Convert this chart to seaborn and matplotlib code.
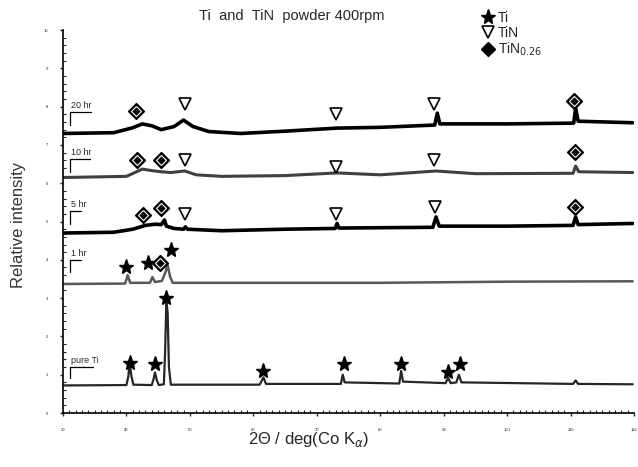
import matplotlib
matplotlib.use('Agg')
import matplotlib.pyplot as plt
import seaborn as sns
import pandas as pd
from matplotlib.lines import Line2D
from matplotlib.ticker import MultipleLocator

# XRD traces (2theta in deg, relative intensity offset per sample)
x_20hr = [30, 38, 41, 42.5, 44, 45.5, 47.5, 49.0, 50.5, 53, 58, 65, 73.2, 80, 88.6, 89.0, 89.4, 100, 110.5, 110.8, 111.2, 119.8]
y_20hr = [7.30, 7.32, 7.45, 7.55, 7.50, 7.40, 7.48, 7.65, 7.48, 7.35, 7.30, 7.36, 7.44, 7.46, 7.52, 7.83, 7.55, 7.55, 7.57, 7.96, 7.62, 7.58]

x_10hr = [30, 40, 41.6, 42.5, 44, 45.5, 47, 49.2, 51, 55, 65, 73.2, 80, 88.8, 95, 110.4, 110.8, 111.3, 119.8]
y_10hr = [6.15, 6.18, 6.30, 6.37, 6.33, 6.30, 6.28, 6.32, 6.22, 6.18, 6.20, 6.27, 6.22, 6.32, 6.25, 6.26, 6.45, 6.30, 6.28]

x_5hr = [30, 38, 41, 43, 44.5, 45.5, 46.0, 46.3, 47.5, 49.0, 49.3, 49.6, 55, 65, 72.9, 73.2, 73.5, 88.3, 88.8, 89.3, 100, 110.4, 110.8, 111.2, 119.8]
y_5hr = [4.70, 4.72, 4.80, 4.90, 4.93, 4.92, 5.04, 4.88, 4.82, 4.80, 4.86, 4.80, 4.76, 4.80, 4.82, 4.95, 4.83, 4.85, 5.12, 4.88, 4.88, 4.90, 5.12, 4.92, 4.95]

x_1hr = [30, 39.8, 40.2, 40.6, 43.7, 44.1, 44.5, 45.6, 46.2, 46.5, 46.9, 47.3, 80, 100, 119.8]
y_1hr = [3.37, 3.38, 3.60, 3.40, 3.40, 3.55, 3.42, 3.45, 3.70, 3.86, 3.55, 3.40, 3.40, 3.43, 3.44]

x_ti = [30, 40.0, 40.3, 40.5, 40.8, 41.1, 44.0, 44.3, 44.5, 44.8, 45.1, 45.9, 46.1, 46.3, 46.5, 46.7, 47.0,
        61.0, 61.6, 62.0, 73.8, 74.1, 74.4, 83.0, 83.3, 83.6, 90.3, 90.7, 91.1, 92.0, 92.4, 92.8,
        110.4, 110.8, 111.2, 119.8]
y_ti = [0.72, 0.73, 0.95, 1.30, 0.95, 0.74, 0.73, 0.90, 1.06, 0.85, 0.73, 0.75, 1.60, 2.95, 2.60, 1.20, 0.74,
        0.74, 0.93, 0.76, 0.76, 1.00, 0.80, 0.77, 1.10, 0.82, 0.78, 0.92, 0.78, 0.80, 1.00, 0.80,
        0.76, 0.85, 0.76, 0.75]

# phase markers
ti_x = [39.9, 43.4, 47.1, 40.5, 44.5, 46.2, 61.6, 74.3, 83.3, 90.7, 92.6]
ti_y = [3.81, 3.92, 4.26, 1.31, 1.28, 3.00, 1.10, 1.28, 1.28, 1.07, 1.28]
tin_x = [49.2, 73.1, 88.5, 49.2, 73.1, 88.5, 49.2, 73.1, 88.6]
tin_y = [8.07, 7.81, 8.07, 6.61, 6.42, 6.61, 5.20, 5.20, 5.38]
tin026_x = [41.5, 110.5, 41.6, 45.4, 110.7, 42.6, 45.4, 110.7, 45.3]
tin026_y = [7.89, 8.15, 6.61, 6.61, 6.81, 5.17, 5.35, 5.38, 3.92]

# sample labels with their bracket levels
sample_labels = ['20 hr', '10 hr', '5 hr', '1 hr', 'pure Ti']
bracket_top = [7.86, 6.63, 5.27, 3.99, 1.20]
bracket_bottom = [7.52, 6.29, 4.93, 3.68, 0.91]
bracket_end = [34.4, 34.3, 32.9, 32.9, 34.7]

sns.set_theme(style='white')
plt.rcParams['font.family'] = ['Liberation Sans', 'DejaVu Sans']

fig = plt.figure(figsize=(6.38, 4.67), dpi=100)
ax = fig.add_axes([0.0987, 0.1156, 0.895, 0.82])

traces = [
    (x_20hr, y_20hr, 'black', 2.6),
    (x_10hr, y_10hr, '0.25', 2.2),
    (x_5hr, y_5hr, 'black', 2.6),
    (x_1hr, y_1hr, '0.35', 1.8),
    (x_ti, y_ti, '0.15', 1.6),
]
for xs, ys, c, lw in traces:
    df = pd.DataFrame({'x': xs, 'y': ys})
    sns.lineplot(data=df, x='x', y='y', ax=ax, color=c, linewidth=lw,
                 sort=False, estimator=None)

ax.plot(ti_x, ti_y, linestyle='none', marker='*', ms=11, color='black')
ax.plot(tin_x, tin_y, linestyle='none', marker='v', ms=8, mfc='white', mec='black', mew=1.2)
ax.plot(tin026_x, tin026_y, linestyle='none', marker='D', ms=8, mfc='black', mec='black')
ax.plot(tin026_x, tin026_y, linestyle='none', marker='D', ms=5.5, mfc='black', mec='white', mew=0.8)

for lab, yt, yb, xe in zip(sample_labels, bracket_top, bracket_bottom, bracket_end):
    ax.plot([xe, 31.1, 31.1], [yt, yt, yb], color='black', lw=0.9)
    ax.text(31.3, yt + 0.05, lab, fontsize=6.5, ha='left', va='bottom')

ax.set_xlim(30, 120)
ax.set_ylim(0, 10)
ax.xaxis.set_major_locator(MultipleLocator(10))
ax.xaxis.set_minor_locator(MultipleLocator(1))
ax.yaxis.set_major_locator(MultipleLocator(1))
ax.yaxis.set_minor_locator(MultipleLocator(0.2))
ax.tick_params(axis='both', which='major', direction='out', length=2.5, width=1,
               labelsize=3, pad=8, left=True, bottom=True)
ax.tick_params(axis='both', which='minor', direction='in', length=2, width=0.8,
               left=True, bottom=True)
for s in ['top', 'right']:
    ax.spines[s].set_visible(False)
for s in ['left', 'bottom']:
    ax.spines[s].set_color('black')
    ax.spines[s].set_linewidth(1.2)

ax.set_xlabel('2Θ / deg(Co K$_\\alpha$)', fontsize=12)
ax.xaxis.set_label_coords(0.43, -0.045)
ax.set_ylabel('Relative intensity', fontsize=12, color='0.2')
ax.yaxis.set_label_coords(-0.065, 0.49)
ax.set_title('Ti  and  TiN  powder 400rpm', fontsize=10.5, pad=7, x=0.40)

handles = [
    Line2D([], [], linestyle='none', marker='*', ms=11, color='black'),
    Line2D([], [], linestyle='none', marker='v', ms=8, mfc='white', mec='black', mew=1.2),
    Line2D([], [], linestyle='none', marker='D', ms=7, mfc='black', mec='black'),
]
fig.legend(handles, ['Ti', 'TiN', 'TiN$_{0.26}$'], loc='upper left',
           bbox_to_anchor=(0.737, 1.0), frameon=False, fontsize=10,
           handlelength=1, handletextpad=0.2, labelspacing=0.05, borderpad=0.3)

fig.savefig('out.png', dpi=100)
